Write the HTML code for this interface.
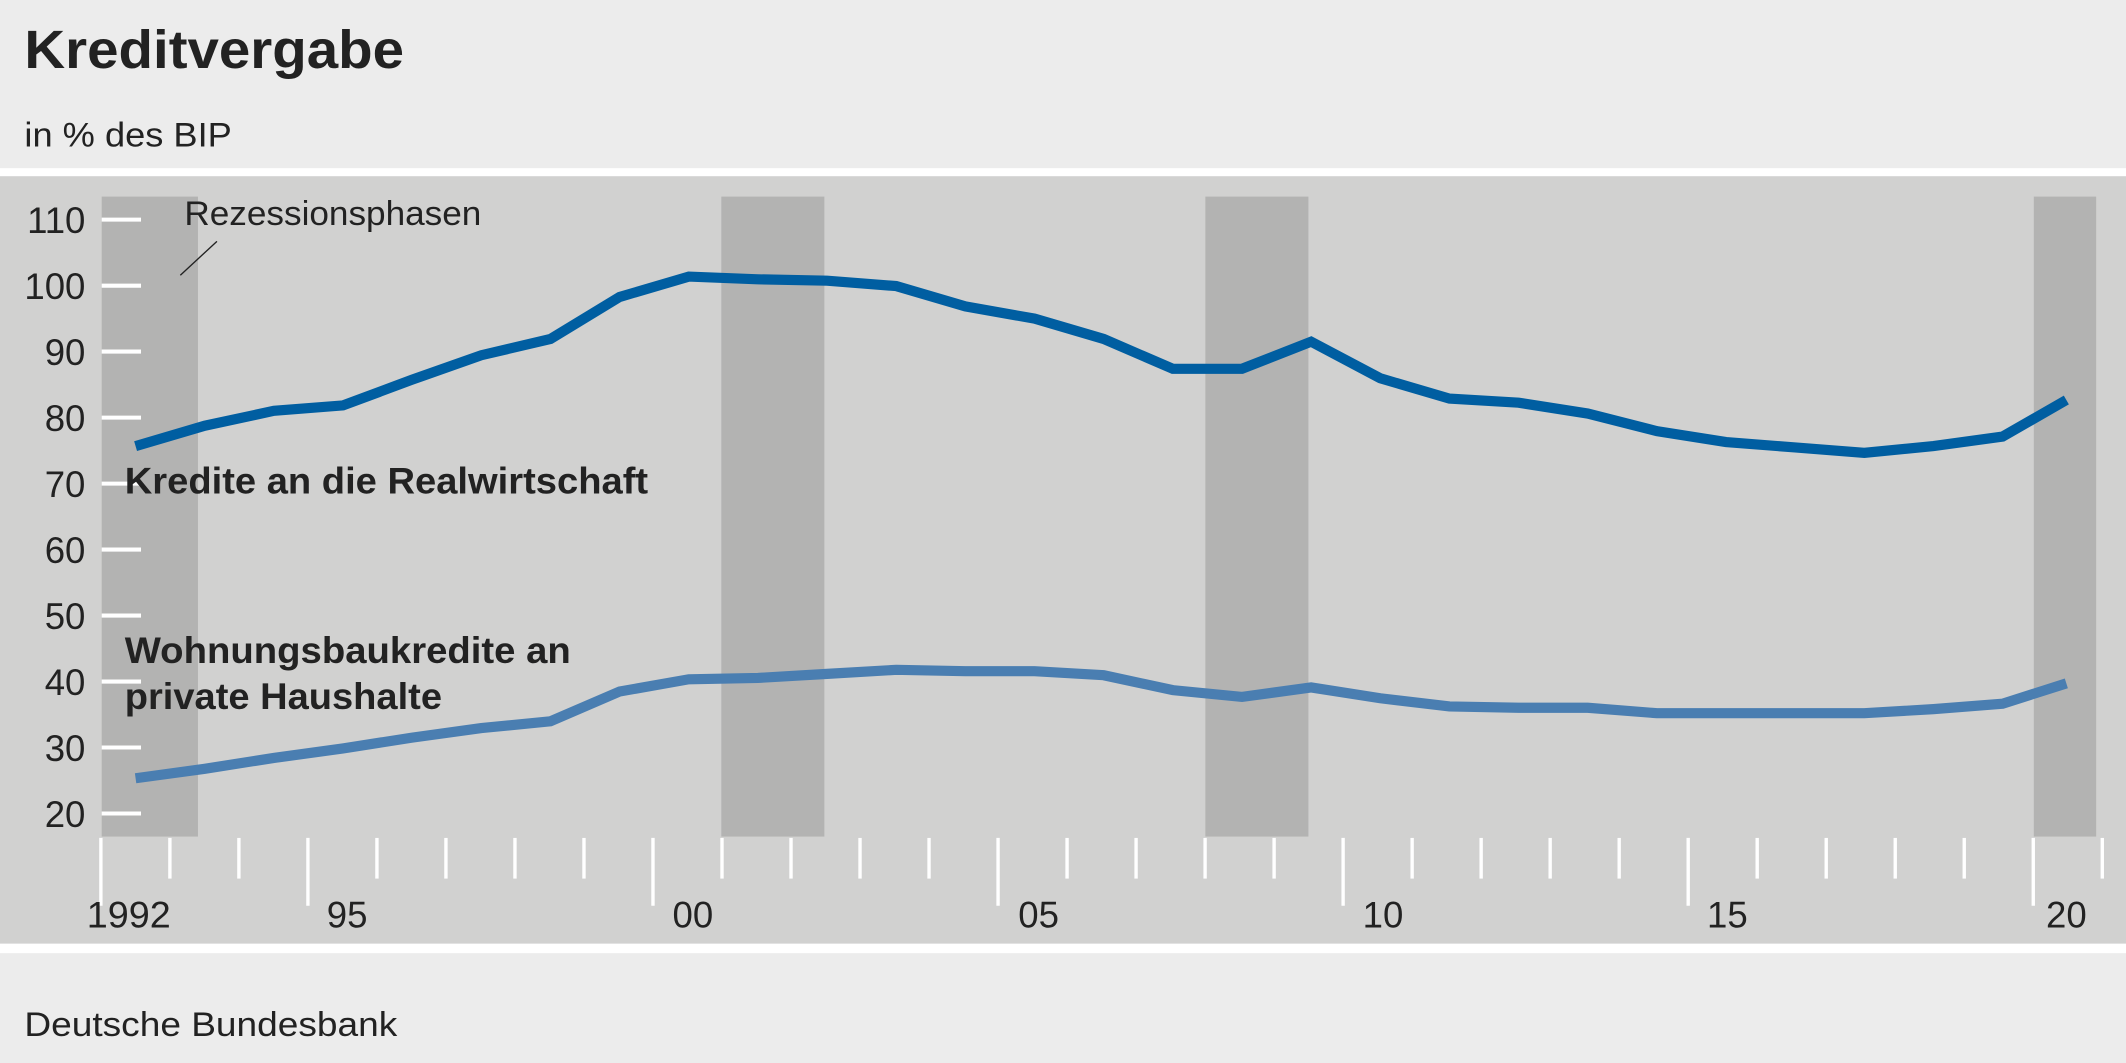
<!DOCTYPE html>
<html><head><meta charset="utf-8"><style>
html,body{margin:0;padding:0;background:#ececec;}
svg{display:block;}
text{font-family:"Liberation Sans","DejaVu Sans",sans-serif;fill:#222;}
</style></head><body>
<svg width="2126" height="1063" viewBox="0 0 1568 784" xmlns="http://www.w3.org/2000/svg">
<rect x="0" y="0" width="1568" height="784" fill="#ececec"/>
<rect x="0" y="124" width="1568" height="6" fill="#ffffff"/>
<rect x="0" y="130" width="1568" height="566" fill="#d1d1d0"/>
<rect x="0" y="696" width="1568" height="7" fill="#ffffff"/>
<text x="18" y="50" font-size="40" font-weight="bold" fill="#222" textLength="280" lengthAdjust="spacingAndGlyphs">Kreditvergabe</text>
<text x="18" y="108" font-size="25" textLength="153" lengthAdjust="spacingAndGlyphs">in % des BIP</text>
<g fill="#b3b3b2">
<rect x="75" y="145" width="71" height="472"/>
<rect x="532" y="145" width="76" height="472"/>
<rect x="889" y="145" width="76" height="472"/>
<rect x="1500" y="145" width="46" height="472"/>
</g>
<g stroke="#fff" stroke-width="3">
<line x1="75" x2="104" y1="162" y2="162"/>
<line x1="75" x2="104" y1="210.7" y2="210.7"/>
<line x1="75" x2="104" y1="259.3" y2="259.3"/>
<line x1="75" x2="104" y1="308" y2="308"/>
<line x1="75" x2="104" y1="356.7" y2="356.7"/>
<line x1="75" x2="104" y1="405.3" y2="405.3"/>
<line x1="75" x2="104" y1="454" y2="454"/>
<line x1="75" x2="104" y1="502.7" y2="502.7"/>
<line x1="75" x2="104" y1="551.3" y2="551.3"/>
<line x1="75" x2="104" y1="600" y2="600"/>
</g>
<g font-size="27" text-anchor="end">
<text x="63" y="172">110</text>
<text x="63" y="220.7">100</text>
<text x="63" y="269.3">90</text>
<text x="63" y="318">80</text>
<text x="63" y="366.7">70</text>
<text x="63" y="415.3">60</text>
<text x="63" y="464">50</text>
<text x="63" y="512.7">40</text>
<text x="63" y="561.3">30</text>
<text x="63" y="610">20</text>
</g>
<g stroke="#fff" stroke-width="2.5">
<line x1="74.4" x2="74.4" y1="618" y2="668"/>
<line x1="125.3" x2="125.3" y1="618" y2="648"/>
<line x1="176.2" x2="176.2" y1="618" y2="648"/>
<line x1="227.1" x2="227.1" y1="618" y2="668"/>
<line x1="278" x2="278" y1="618" y2="648"/>
<line x1="328.9" x2="328.9" y1="618" y2="648"/>
<line x1="379.8" x2="379.8" y1="618" y2="648"/>
<line x1="430.7" x2="430.7" y1="618" y2="648"/>
<line x1="481.6" x2="481.6" y1="618" y2="668"/>
<line x1="532.5" x2="532.5" y1="618" y2="648"/>
<line x1="583.4" x2="583.4" y1="618" y2="648"/>
<line x1="634.3" x2="634.3" y1="618" y2="648"/>
<line x1="685.2" x2="685.2" y1="618" y2="648"/>
<line x1="736.1" x2="736.1" y1="618" y2="668"/>
<line x1="787" x2="787" y1="618" y2="648"/>
<line x1="837.9" x2="837.9" y1="618" y2="648"/>
<line x1="888.8" x2="888.8" y1="618" y2="648"/>
<line x1="939.7" x2="939.7" y1="618" y2="648"/>
<line x1="990.6" x2="990.6" y1="618" y2="668"/>
<line x1="1041.5" x2="1041.5" y1="618" y2="648"/>
<line x1="1092.4" x2="1092.4" y1="618" y2="648"/>
<line x1="1143.3" x2="1143.3" y1="618" y2="648"/>
<line x1="1194.2" x2="1194.2" y1="618" y2="648"/>
<line x1="1245.1" x2="1245.1" y1="618" y2="668"/>
<line x1="1296" x2="1296" y1="618" y2="648"/>
<line x1="1346.9" x2="1346.9" y1="618" y2="648"/>
<line x1="1397.8" x2="1397.8" y1="618" y2="648"/>
<line x1="1448.7" x2="1448.7" y1="618" y2="648"/>
<line x1="1499.6" x2="1499.6" y1="618" y2="668"/>
<line x1="1550.5" x2="1550.5" y1="618" y2="648"/>
</g>
<g font-size="27">
<text x="64" y="684" textLength="62" lengthAdjust="spacingAndGlyphs">1992</text>
<text x="241" y="684">95</text>
<text x="496" y="684">00</text>
<text x="751" y="684">05</text>
<text x="1005" y="684">10</text>
<text x="1259" y="684">15</text>
<text x="1509" y="684">20</text>
</g>
<polyline fill="none" stroke="#4a7eb1" stroke-width="7.5" points="100,574 151,567 202,559 253,552 304,544 355,537 406,532 457,510 508,501 559,500 610,497 661,494 712,495 763,495 814,498 865,509 916,514 967,507 1018,515 1069,521 1120,522 1171,522 1222,526 1273,526 1324,526 1375,526 1426,523 1477,519 1524,504"/>
<polyline fill="none" stroke="#005ea1" stroke-width="7.5" points="100,329 151,314 202,303 253,299 304,280 355,262 406,250 457,219 508,204 559,206 610,207 661,211 712,226 763,235 814,250 865,272 916,272 967,252 1018,279 1069,294 1120,297 1171,305 1222,318 1273,326 1324,330 1375,334 1426,329 1477,322 1524,295"/>
<text x="92" y="364" font-size="27" font-weight="bold" textLength="386" lengthAdjust="spacingAndGlyphs">Kredite an die Realwirtschaft</text>
<text x="92" y="489" font-size="27" font-weight="bold" textLength="329" lengthAdjust="spacingAndGlyphs">Wohnungsbaukredite an</text>
<text x="92" y="523" font-size="27" font-weight="bold" textLength="234" lengthAdjust="spacingAndGlyphs">private Haushalte</text>
<text x="136" y="166" font-size="25" textLength="219" lengthAdjust="spacingAndGlyphs">Rezessionsphasen</text>
<line x1="133" y1="203" x2="160" y2="178" stroke="#222" stroke-width="1"/>
<text x="18" y="764" font-size="25" textLength="275" lengthAdjust="spacingAndGlyphs">Deutsche Bundesbank</text>
</svg>
</body></html>
